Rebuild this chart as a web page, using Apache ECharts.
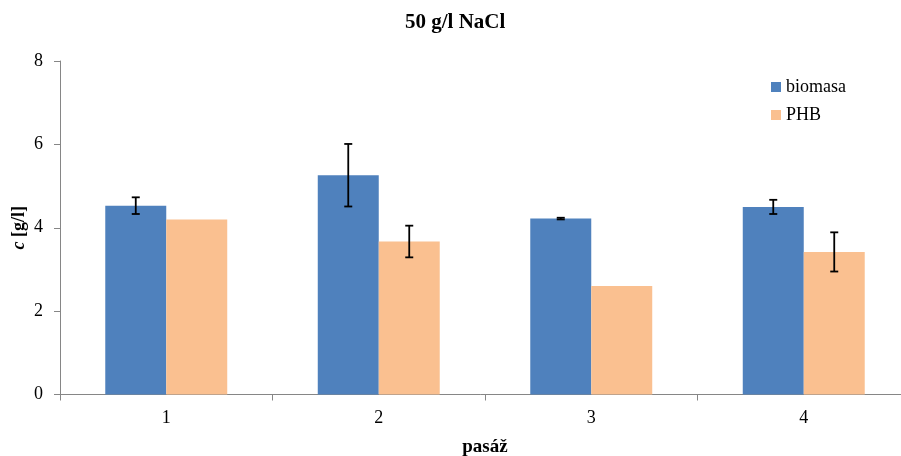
<!DOCTYPE html>
<html><head><meta charset="utf-8">
<script src="https://cdn.jsdelivr.net/npm/echarts@6/dist/echarts.min.js"></script>
<style>html,body{margin:0;padding:0;background:#fff}#c{width:901px;height:456px}</style>
</head><body><div id="c"></div>
<script>
const categories = ['1', '2', '3', '4'];
const biomasa = [4.53, 5.26, 4.22, 4.50];
const biomasaErr = [0.20, 0.75, 0.02, 0.17];
const phb = [4.20, 3.67, 2.60, 3.42];
const phbErr = [0, 0.38, 0, 0.47];
const yTicks = [0, 2, 4, 6, 8];

const FONT = '"Liberation Serif", "Times New Roman", serif';
const BAR_W = 0.287;

function errSeries(name, vals, errs, side) {
  return {
    type: 'custom',
    name: name + '_err',
    z: 10,
    silent: true,
    data: vals.map((v, i) => [i, v, errs[i]]),
    renderItem: function (params, api) {
      const i = api.value(0), v = api.value(1), e = api.value(2);
      if (!e) return null;
      const band = api.size([1, 0])[0];
      const off = side * band * BAR_W / 2;
      const hi = api.coord([i, v + e]);
      const lo = api.coord([i, v - e]);
      const x = hi[0] + off;
      const cap = 4;
      const st = { stroke: '#000', lineWidth: 1.8 };
      return {
        type: 'group',
        children: [
          { type: 'line', shape: { x1: x, y1: hi[1], x2: x, y2: lo[1] }, style: st },
          { type: 'line', shape: { x1: x - cap, y1: hi[1], x2: x + cap, y2: hi[1] }, style: st },
          { type: 'line', shape: { x1: x - cap, y1: lo[1], x2: x + cap, y2: lo[1] }, style: st }
        ]
      };
    }
  };
}

const chart = echarts.init(document.getElementById('c'));
chart.setOption({
  animation: false,
  textStyle: { fontFamily: FONT },
  title: {
    text: '50 g/l NaCl', left: 400, top: 7,
    textStyle: { fontFamily: FONT, fontWeight: 'bold', fontSize: 21, color: '#000' }
  },
  legend: {
    orient: 'vertical', left: 766, top: 73, itemGap: 10,
    icon: 'rect', itemWidth: 10, itemHeight: 10,
    data: ['biomasa', 'PHB'],
    textStyle: { fontFamily: FONT, fontSize: 18, color: '#000' }
  },
  grid: { left: 60, top: 61, height: 333.5, width: 850, containLabel: false, outerBoundsMode: 'none' },
  xAxis: {
    type: 'category', data: categories,
    name: 'pasáž', nameLocation: 'middle', nameGap: 43, nameMoveOverlap: false,
    nameTextStyle: { fontFamily: FONT, fontWeight: 'bold', fontSize: 19, color: '#000' },
    axisLine: { lineStyle: { color: '#868686', width: 1 } },
    axisTick: { show: true, length: 6, lineStyle: { color: '#868686' } },
    axisLabel: { fontFamily: FONT, fontSize: 18, color: '#000', margin: 15 }
  },
  yAxis: {
    type: 'value', min: 0, max: 8, interval: 2,
    name: '{i|c} [g/l]', nameLocation: 'middle', nameGap: 32, nameRotate: 90, nameMoveOverlap: false,
    nameTextStyle: {
      fontFamily: FONT, fontWeight: 'bold', fontSize: 18, color: '#000',
      rich: { i: { fontFamily: FONT, fontStyle: 'italic', fontWeight: 'bold', fontSize: 18, color: '#000' } }
    },
    axisLine: { show: true, lineStyle: { color: '#868686', width: 1 } },
    axisTick: { show: true, length: 6, lineStyle: { color: '#868686' } },
    splitLine: { show: false },
    axisLabel: {
      fontFamily: FONT, fontSize: 18, color: '#000', margin: 17,
      formatter: v => yTicks.includes(v) ? String(v) : ''
    }
  },
  series: [
    { type: 'bar', name: 'biomasa', data: biomasa, barWidth: (BAR_W * 100) + '%', barGap: '0%',
      itemStyle: { color: '#4F81BD' } },
    { type: 'bar', name: 'PHB', data: phb, barWidth: (BAR_W * 100) + '%', barGap: '0%',
      itemStyle: { color: '#FAC090' } },
    errSeries('biomasa', biomasa, biomasaErr, -1),
    errSeries('PHB', phb, phbErr, 1)
  ]
});
</script></body></html>
